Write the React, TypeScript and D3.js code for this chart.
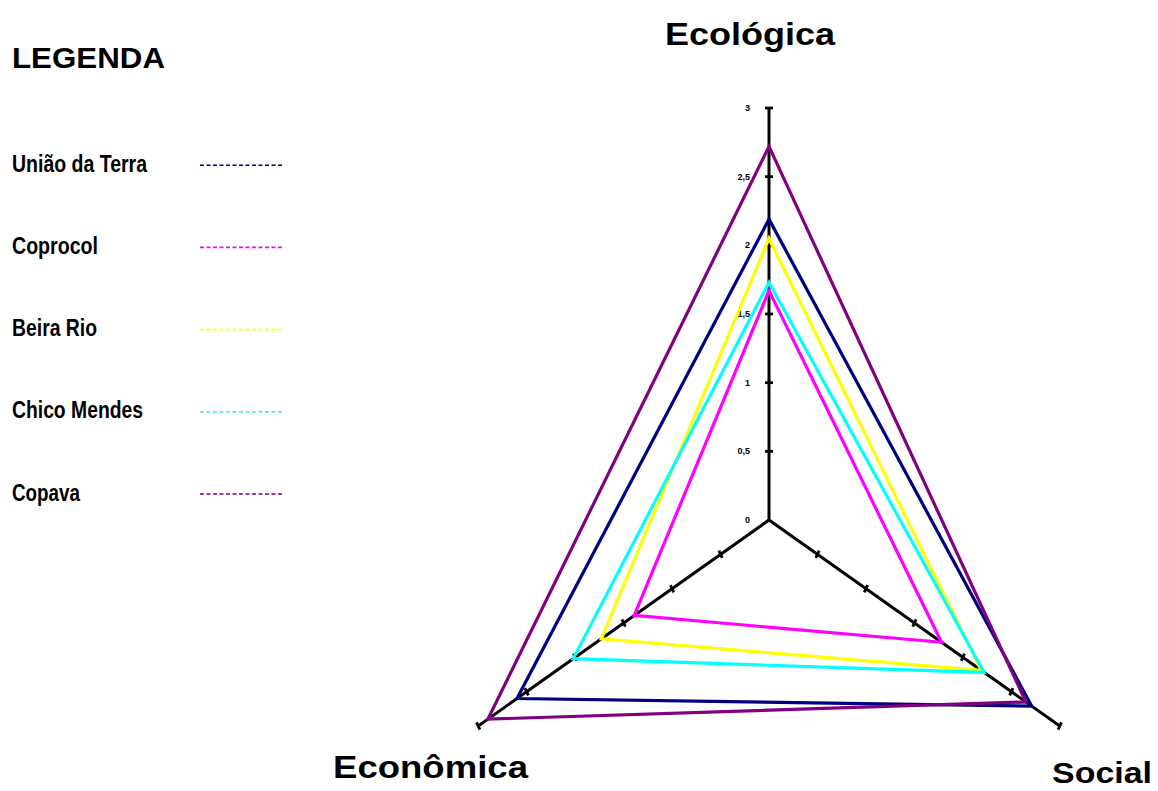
import React from "react";
import * as d3 from "d3";

const categories = ["Ecológica", "Econômica", "Social"];
const seriesNames = ["União da Terra", "Coprocol", "Beira Rio", "Chico Mendes", "Copava"];
const seriesColors = ["#000080", "#FF00FF", "#FFFF00", "#00FFFF", "#800080"];
const uniaoDaTerra = [2.19, 2.6, 2.71];
const coprocol = [1.67, 1.39, 1.78];
const beiraRio = [2.05, 1.73, 2.19];
const chicoMendes = [1.73, 2.02, 2.22];
const copava = [2.72, 2.9, 2.65];
const tickValues = [0, 0.5, 1, 1.5, 2, 2.5, 3];
const tickLabels = ["0", "0,5", "1", "1,5", "2", "2,5", "3"];

const seriesValues = [uniaoDaTerra, coprocol, beiraRio, chicoMendes, copava];

const W = 1158;
const H = 791;
const cx = 769;
const cy = 520;
const sx = 0.815;
const angles = [-90, 150, 30].map((a) => (a * Math.PI) / 180);

const r = d3.scaleLinear().domain([0, 3]).range([0, 412]);

function pt(axis: number, v: number): [number, number] {
  const a = angles[axis];
  return [cx + r(v) * Math.cos(a) * sx, cy + r(v) * Math.sin(a)];
}

const lineGen = d3
  .line<[number, number]>()
  .x((d) => d[0])
  .y((d) => d[1])
  .curve(d3.curveLinearClosed);

const legendNarrow = "'Liberation Sans Narrow', 'Arial Narrow', 'Liberation Sans', Arial, sans-serif";
const bold = "'Liberation Sans', Arial, sans-serif";

const legendWidths = [135, 86, 85, 131, 68];

export default function App() {
  const legendY = d3.scaleLinear().domain([0, 4]).range([171.7, 500.5]);
  return (
    <svg
      width={W}
      height={H}
      style={{ position: "absolute", left: 0, top: 0, background: "#fff" }}
      xmlns="http://www.w3.org/2000/svg"
    >
      <rect x={0} y={0} width={W} height={H} fill="#fff" />
      {/* axes */}
      {categories.map((c, i) => {
        const [x2, y2] = pt(i, 3);
        return (
          <g key={c}>
            <line x1={cx} y1={cy} x2={x2} y2={y2} stroke="#000" strokeWidth={3} />
            {tickValues.slice(1).map((t) => {
              const [tx, ty] = pt(i, t);
              const a = angles[i];
              const px = -Math.sin(a) * sx;
              const py = Math.cos(a);
              const len = Math.hypot(px, py);
              const half = 4;
              return (
                <line
                  key={t}
                  x1={tx - (px / len) * half}
                  y1={ty - (py / len) * half}
                  x2={tx + (px / len) * half}
                  y2={ty + (py / len) * half}
                  stroke="#000"
                  strokeWidth={2.8}
                />
              );
            })}
          </g>
        );
      })}
      {/* tick labels */}
      {tickValues.map((t, k) => {
        const [, ty] = pt(0, t);
        return (
          <text
            key={t}
            x={750}
            y={ty}
            textAnchor="end"
            dominantBaseline="central"
            fontFamily={bold}
            fontWeight="bold"
            fontSize={9}
            fill="#000"
          >
            {tickLabels[k]}
          </text>
        );
      })}
      {/* series */}
      {seriesValues.map((vals, s) => (
        <path
          key={seriesNames[s]}
          d={lineGen(vals.map((v, i) => pt(i, v))) || ""}
          fill="none"
          stroke={seriesColors[s]}
          strokeWidth={3.2}
          strokeLinejoin="miter"
        />
      ))}
      {/* category labels */}
      <text x={665} y={45} fontFamily={bold} fontWeight="bold" fontSize={31} textLength={170} lengthAdjust="spacingAndGlyphs">
        {categories[0]}
      </text>
      <text x={333} y={778} fontFamily={bold} fontWeight="bold" fontSize={31} textLength={195} lengthAdjust="spacingAndGlyphs">
        {categories[1]}
      </text>
      <text x={1052} y={783} fontFamily={bold} fontWeight="bold" fontSize={30} textLength={100} lengthAdjust="spacingAndGlyphs">
        {categories[2]}
      </text>
      {/* legend */}
      <text x={12} y={68.3} fontFamily={bold} fontWeight="bold" fontSize={29} textLength={153} lengthAdjust="spacingAndGlyphs">
        LEGENDA
      </text>
      {seriesNames.map((n, s) => {
        const y = legendY(s);
        return (
          <g key={n}>
            <text
              x={12}
              y={y}
              fontFamily={legendNarrow}
              fontWeight="bold"
              fontSize={23}
              textLength={legendWidths[s]}
              lengthAdjust="spacingAndGlyphs"
            >
              {n}
            </text>
            <line
              x1={200}
              y1={y - 6.5}
              x2={284}
              y2={y - 6.5}
              stroke={seriesColors[s]}
              strokeWidth={1.6}
              strokeDasharray="4 2.5"
            />
          </g>
        );
      })}
    </svg>
  );
}
